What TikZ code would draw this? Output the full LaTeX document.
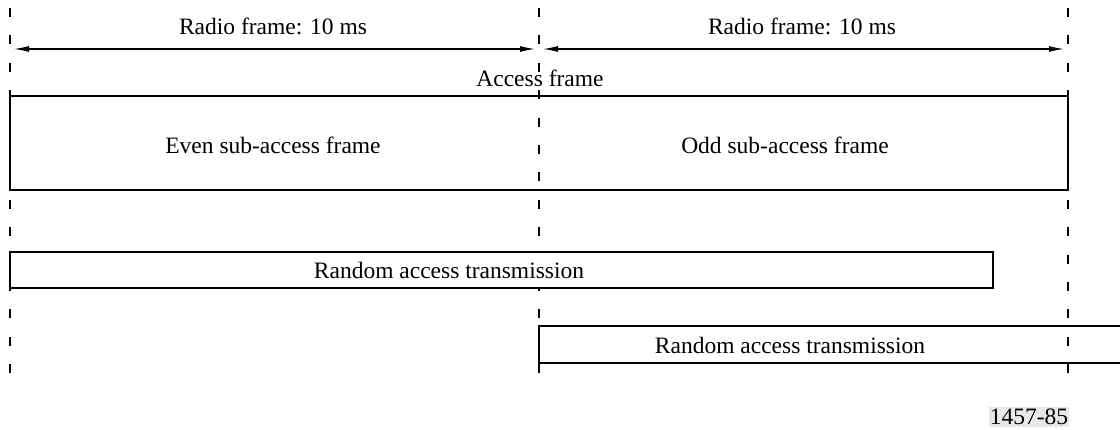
\documentclass[tikz,border=0pt]{standalone}
\usepackage{fontspec}
\setmainfont{Liberation Serif}
\usetikzlibrary{arrows.meta}
\begin{document}
\begin{tikzpicture}[x=1pt,y=-1pt,
  lbl/.style={font=\fontsize{23.5}{28}\selectfont, inner sep=0pt},
  guide/.style={line width=2.2pt, dash pattern=on 9pt off 18.4pt},
  frm/.style={draw, line width=2.4pt, inner sep=0pt},
  dim/.style={line width=1.2pt, {Latex[length=15pt,width=6pt]}-{Latex[length=15pt,width=6pt]}}]
\useasboundingbox (0,0) rectangle (1120,430);
% guide coordinates
\coordinate (gAt) at (10,8);   \coordinate (gAb) at (10,374);
\coordinate (gBt) at (539,8);  \coordinate (gBb) at (539,374);
\coordinate (gCt) at (1068,8); \coordinate (gCb) at (1068,374);
\draw[guide] (gAt) -- (gAb);
\draw[guide] (gBt) -- (gBb);
\draw[guide] (gCt) -- (gCb);
% dimension arrows
\coordinate (a1) at (14,49);  \coordinate (a2) at (535,49);
\coordinate (a3) at (543,49); \coordinate (a4) at (1064,49);
\draw[dim] (a1) -- (a2);
\draw[dim] (a3) -- (a4);
\node[lbl] (r1) at (273,26) {Radio frame: 10 ms};
\node[lbl] (r2) at (802,26) {Radio frame: 10 ms};
\node[lbl] (af) at (540,78) {Access frame};
% access frame box
\node[frm, minimum width=1058pt, minimum height=94pt] (acc) at (539,143) {};
\node[lbl] (evt) at (273,145) {Even sub-access frame};
\node[lbl] (odt) at (785,145) {Odd sub-access frame};
% random access boxes
\node[lbl, fill=white, inner ysep=9pt] (ra1t) at (449,270) {Random access transmission};
\node[frm, minimum width=983pt, minimum height=36pt] (ra1) at (501.5,270) {};
\draw[line width=2.4pt] (1125,326) -- (539,326) -- (539,363) -- (1125,363);
\coordinate (ra2) at (829,344);
\node[lbl] (ra2t) at (790,345) {Random access transmission};
% figure number
\node[lbl, fill=black!9, inner xsep=1pt, inner ysep=2pt] (fig) at (1029,417) {1457-85};
\end{tikzpicture}
\end{document}
